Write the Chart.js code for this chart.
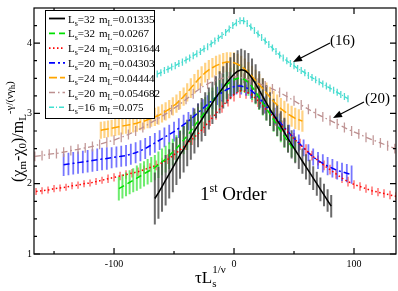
<!DOCTYPE html>
<html>
<head>
<meta charset="utf-8">
<script src="https://cdn.jsdelivr.net/npm/chart.js@4.4.0/dist/chart.umd.min.js"></script>
<style>body{margin:0;background:#fff}</style>
</head>
<body>
<canvas id="c" width="398" height="291"></canvas>
<script>
/* ---- axis ticks ---- */
const xTickLabels = [-100, 0, 100];
const xMinorTicks = [-150, -50, 50];
const yTickLabels = [1, 2, 3, 4];
const yMinorTicks = [1.25, 1.5, 1.75, 2.25, 2.5, 2.75, 3.25, 3.5, 3.75, 4.25];

/* ---- legend text ---- */
const legendLs = [32, 32, 24, 20, 24, 20, 16];
const legendmL = ["0.01335", "0.0267", "0.031644", "0.04303", "0.04444", "0.054682", "0.075"];

/* ---- Ls=32 mL=0.01335 ---- */
const black_x = [-66,-63,-60,-57,-54,-51,-48,-45,-42,-39,-36,-33,-30,-27,-24,-21,-18,-15,-12,-9,-6,-3,0,3,6,9,12,15,18,21,24,27,30,33,36,39,42,45,48,51,54,57,60,63,66,69,72,75,78,81];
const black_y = [1.79,1.87,1.96,2.05,2.14,2.23,2.32,2.41,2.49,2.58,2.66,2.75,2.83,2.91,2.99,3.07,3.15,3.23,3.30,3.37,3.44,3.50,3.56,3.60,3.62,3.61,3.57,3.50,3.42,3.33,3.24,3.15,3.06,2.98,2.90,2.82,2.73,2.64,2.56,2.48,2.40,2.32,2.24,2.16,2.08,2.00,1.92,1.84,1.76,1.68];
const black_err = [0.37,0.37,0.36,0.36,0.35,0.35,0.34,0.34,0.33,0.33,0.32,0.32,0.31,0.31,0.31,0.30,0.30,0.30,0.30,0.30,0.30,0.30,0.30,0.30,0.30,0.29,0.29,0.28,0.28,0.27,0.26,0.25,0.24,0.23,0.22,0.21,0.21,0.20,0.20,0.19,0.19,0.18,0.18,0.18,0.17,0.17,0.17,0.16,0.16,0.16];

/* ---- Ls=32 mL=0.0267 ---- */
const green_x = [-96,-93,-90,-87,-84,-81,-78,-75,-72,-69,-66,-63,-60,-57,-54,-51,-48,-45,-42,-39,-36,-33,-30,-27,-24,-21,-18,-15,-12,-9,-6,-3,0,3,6,9,12,15,18,21,24,27,30,33,36,39,42,45,48,51];
const green_y = [1.93,1.96,1.99,2.02,2.05,2.08,2.11,2.14,2.17,2.20,2.23,2.27,2.31,2.35,2.40,2.45,2.50,2.56,2.62,2.68,2.75,2.82,2.89,2.96,3.03,3.10,3.17,3.24,3.30,3.36,3.41,3.45,3.48,3.50,3.50,3.48,3.44,3.38,3.31,3.23,3.15,3.07,2.99,2.91,2.83,2.75,2.67,2.60,2.53,2.46];
const green_err = [0.17,0.17,0.17,0.17,0.17,0.18,0.18,0.18,0.18,0.18,0.18,0.19,0.19,0.19,0.19,0.19,0.19,0.20,0.20,0.20,0.20,0.20,0.20,0.20,0.20,0.20,0.20,0.20,0.20,0.20,0.20,0.20,0.20,0.20,0.20,0.19,0.19,0.19,0.18,0.18,0.18,0.17,0.17,0.17,0.16,0.16,0.16,0.15,0.15,0.15];

/* ---- Ls=24 mL=0.031644 ---- */
const red_x = [-165,-160,-155,-150,-145,-140,-135,-130,-125,-120,-115,-110,-105,-100,-95,-90,-85,-80,-75,-70,-65,-60,-55,-50,-45,-40,-35,-30,-25,-20,-15,-10,-5,0,5,10,15,20,25,30,35,40,45,50,55,60,65,70,75,80,85,90,95,100,105,110,115,120,125,130,135];
const red_y = [1.89,1.90,1.91,1.93,1.94,1.95,1.97,1.98,2.00,2.01,2.03,2.05,2.07,2.09,2.11,2.13,2.15,2.17,2.20,2.23,2.26,2.30,2.35,2.41,2.48,2.55,2.63,2.71,2.80,2.90,3.00,3.10,3.19,3.27,3.32,3.31,3.26,3.18,3.09,3.00,2.91,2.82,2.73,2.64,2.56,2.48,2.40,2.33,2.26,2.20,2.14,2.08,2.03,1.99,1.96,1.93,1.90,1.88,1.86,1.84,1.82];
const red_err = [0.05,0.05,0.05,0.05,0.05,0.05,0.05,0.05,0.05,0.05,0.05,0.05,0.06,0.06,0.06,0.06,0.06,0.06,0.06,0.06,0.07,0.07,0.07,0.07,0.07,0.07,0.08,0.08,0.08,0.08,0.09,0.09,0.09,0.10,0.10,0.10,0.10,0.09,0.09,0.09,0.09,0.08,0.08,0.08,0.08,0.08,0.07,0.07,0.07,0.07,0.07,0.07,0.07,0.06,0.06,0.06,0.06,0.06,0.06,0.06,0.06];

/* ---- Ls=20 mL=0.04303 ---- */
const blue_x = [-142,-138,-134,-130,-126,-122,-118,-114,-110,-106,-102,-98,-94,-90,-86,-82,-78,-74,-70,-66,-62,-58,-54,-50,-46,-42,-38,-34,-30,-26,-22,-18,-14,-10,-6,-2,2,6,10,14,18,22,26,30,34,38,42,46,50,54,58,62,66,70,74,78,82,86,90,94,98];
const blue_y = [2.27,2.28,2.29,2.30,2.31,2.32,2.33,2.34,2.35,2.36,2.37,2.38,2.39,2.40,2.42,2.44,2.47,2.50,2.54,2.58,2.62,2.66,2.70,2.74,2.79,2.84,2.89,2.95,3.01,3.07,3.13,3.19,3.25,3.30,3.34,3.37,3.39,3.39,3.37,3.33,3.27,3.20,3.12,3.04,2.96,2.88,2.80,2.72,2.65,2.58,2.51,2.44,2.38,2.33,2.29,2.25,2.22,2.19,2.17,2.15,2.13];
const blue_err = [0.16,0.16,0.16,0.16,0.16,0.16,0.16,0.16,0.16,0.16,0.15,0.15,0.15,0.15,0.15,0.15,0.15,0.15,0.14,0.14,0.14,0.14,0.14,0.14,0.14,0.14,0.13,0.13,0.13,0.13,0.13,0.13,0.13,0.13,0.13,0.13,0.12,0.12,0.12,0.12,0.12,0.12,0.12,0.12,0.12,0.12,0.12,0.12,0.12,0.12,0.12,0.12,0.12,0.12,0.13,0.13,0.13,0.13,0.13,0.13,0.13];

/* ---- Ls=24 mL=0.04444 ---- */
const orange_x = [-111,-108,-105,-102,-99,-96,-93,-90,-87,-84,-81,-78,-75,-72,-69,-66,-63,-60,-57,-54,-51,-48,-45,-42,-39,-36,-33,-30,-27,-24,-21,-18,-15,-12,-9,-6,-3,0,3,6,9,12,15,18,21,24,27,30,33,36,39,42,45,48,51,54,57];
const orange_y = [2.76,2.77,2.78,2.79,2.80,2.81,2.82,2.83,2.84,2.85,2.86,2.88,2.89,2.91,2.93,2.95,2.97,3.00,3.03,3.06,3.10,3.14,3.19,3.24,3.30,3.36,3.42,3.48,3.53,3.58,3.62,3.65,3.68,3.70,3.72,3.73,3.73,3.72,3.70,3.67,3.63,3.58,3.53,3.47,3.41,3.35,3.29,3.23,3.17,3.12,3.07,3.03,2.99,2.96,2.93,2.91,2.89];
const orange_err = [0.12,0.12,0.12,0.12,0.12,0.12,0.12,0.12,0.12,0.12,0.12,0.12,0.12,0.12,0.12,0.13,0.13,0.13,0.13,0.13,0.13,0.13,0.13,0.13,0.13,0.14,0.14,0.14,0.14,0.14,0.14,0.14,0.14,0.14,0.14,0.14,0.14,0.15,0.15,0.15,0.15,0.15,0.15,0.15,0.15,0.15,0.15,0.15,0.15,0.15,0.15,0.15,0.15,0.15,0.15,0.15,0.15];

/* ---- Ls=20 mL=0.054682 ---- */
const brown_x = [-166,-160,-154,-148,-142,-136,-130,-124,-118,-112,-106,-100,-94,-88,-82,-76,-70,-64,-58,-52,-46,-40,-34,-28,-22,-16,-10,-4,2,8,14,20,26,32,38,44,50,56,62,68,74,80,86,92,98,104,110,116,122,128,134];
const brown_y = [2.39,2.40,2.42,2.43,2.45,2.47,2.49,2.51,2.53,2.56,2.59,2.62,2.66,2.70,2.75,2.80,2.86,2.92,2.98,3.05,3.12,3.20,3.28,3.36,3.42,3.47,3.50,3.52,3.52,3.50,3.47,3.43,3.39,3.35,3.30,3.24,3.18,3.12,3.06,3.00,2.95,2.90,2.85,2.80,2.75,2.71,2.66,2.62,2.58,2.54,2.50];
const brown_err = [0.07,0.07,0.07,0.07,0.07,0.07,0.07,0.07,0.07,0.07,0.07,0.07,0.07,0.07,0.07,0.07,0.07,0.07,0.07,0.07,0.07,0.07,0.07,0.07,0.07,0.07,0.07,0.07,0.07,0.07,0.07,0.07,0.07,0.07,0.07,0.07,0.07,0.07,0.07,0.07,0.07,0.07,0.07,0.07,0.07,0.07,0.07,0.07,0.07,0.07,0.07];

/* ---- Ls=16 mL=0.075 ---- */
const cyan_x = [-64,-61,-58,-55,-52,-49,-46,-43,-40,-37,-34,-31,-28,-25,-22,-19,-16,-13,-10,-7,-4,-1,2,5,8,11,14,17,20,23,26,29,32,35,38,41,44,47,50,53,56,59,62,65,68,71,74,77,80,83,86,89,92,95];
const cyan_y = [3.56,3.58,3.61,3.63,3.66,3.68,3.71,3.73,3.76,3.79,3.82,3.85,3.88,3.92,3.95,3.99,4.03,4.07,4.11,4.15,4.20,4.25,4.29,4.32,4.32,4.28,4.23,4.18,4.13,4.08,4.03,3.98,3.93,3.88,3.83,3.79,3.75,3.71,3.68,3.64,3.61,3.58,3.54,3.51,3.48,3.45,3.42,3.39,3.36,3.33,3.30,3.27,3.24,3.21];
const cyan_err = [0.05,0.05,0.05,0.05,0.05,0.05,0.05,0.05,0.05,0.05,0.05,0.05,0.05,0.05,0.05,0.05,0.05,0.05,0.05,0.05,0.05,0.05,0.05,0.05,0.05,0.05,0.05,0.05,0.05,0.05,0.05,0.05,0.05,0.05,0.05,0.05,0.05,0.05,0.05,0.05,0.05,0.05,0.05,0.05,0.05,0.05,0.05,0.05,0.05,0.05,0.05,0.05,0.05,0.05];

const SERIF = '"Liberation Serif", "DejaVu Serif", serif';

const series = [
  { xs: black_x,  ys: black_y,  err: black_err,  color: "#000000", bar: "rgba(70,70,70,0.8)",    bw: 2.0, dash: [],            lw: 1.5 },
  { xs: green_x,  ys: green_y,  err: green_err,  color: "#00e000", bar: "rgba(60,230,60,0.75)",  bw: 2.0, dash: [6, 4],        lw: 1.5 },
  { xs: red_x,    ys: red_y,    err: red_err,    color: "#ff0000", bar: "rgba(255,80,80,0.8)",   bw: 1.5, dash: [1.5, 2.5],    lw: 1.5 },
  { xs: blue_x,   ys: blue_y,   err: blue_err,   color: "#0000ff", bar: "rgba(60,60,255,0.7)",   bw: 1.8, dash: [6, 3, 2, 3],  lw: 1.5 },
  { xs: orange_x, ys: orange_y, err: orange_err, color: "#ffa500", bar: "rgba(255,195,90,0.75)", bw: 2.2, dash: [8, 3],        lw: 1.5 },
  { xs: brown_x,  ys: brown_y,  err: brown_err,  color: "#bc8f8f", bar: "rgba(188,143,143,0.9)", bw: 1.3, dash: [6, 3, 1.5, 3],lw: 1.3 },
  { xs: cyan_x,   ys: cyan_y,   err: cyan_err,   color: "#40e0d0", bar: "rgba(64,214,204,0.9)",  bw: 1.3, dash: [5, 2, 1, 2],  lw: 1.3 }
];
const barOrder = [2, 3, 1, 4, 5, 6, 0];

function rich(ctx, parts, x, y) {
  parts.forEach(([t, size, dy]) => {
    ctx.font = size + "px " + SERIF;
    ctx.fillText(t, x, y + dy);
    x += ctx.measureText(t).width;
  });
  return x;
}

function arrow(ctx, x1, y1, x2, y2) {
  const a = Math.atan2(y2 - y1, x2 - x1);
  ctx.beginPath(); ctx.moveTo(x1, y1); ctx.lineTo(x2 - 6 * Math.cos(a), y2 - 6 * Math.sin(a)); ctx.stroke();
  ctx.beginPath();
  ctx.moveTo(x2, y2);
  ctx.lineTo(x2 - 9 * Math.cos(a) + 3.5 * Math.sin(a), y2 - 9 * Math.sin(a) - 3.5 * Math.cos(a));
  ctx.lineTo(x2 - 9 * Math.cos(a) - 3.5 * Math.sin(a), y2 - 9 * Math.sin(a) + 3.5 * Math.cos(a));
  ctx.closePath(); ctx.fill();
}

const decor = {
  id: "decor",
  beforeDatasetsDraw(chart) {
    const { ctx, chartArea: a, scales: { x, y } } = chart;
    ctx.save();
    ctx.beginPath(); ctx.rect(a.left, a.top, a.right - a.left, a.bottom - a.top); ctx.clip();
    barOrder.forEach(k => {
      const s = series[k];
      ctx.strokeStyle = s.bar; ctx.lineWidth = s.bw;
      ctx.beginPath();
      s.xs.forEach((v, i) => {
        const px = x.getPixelForValue(v);
        ctx.moveTo(px, y.getPixelForValue(s.ys[i] - s.err[i]));
        ctx.lineTo(px, y.getPixelForValue(s.ys[i] + s.err[i]));
      });
      ctx.stroke();
    });
    ctx.restore();
  },
  afterDraw(chart) {
    const { ctx, chartArea: a, scales: { x, y } } = chart;
    ctx.save();
    // frame + ticks
    ctx.strokeStyle = "#000"; ctx.lineWidth = 1.2;
    ctx.strokeRect(a.left, a.top, a.right - a.left, a.bottom - a.top);
    ctx.beginPath();
    const xt = (v, len) => { const p = x.getPixelForValue(v); ctx.moveTo(p, a.bottom); ctx.lineTo(p, a.bottom - len); ctx.moveTo(p, a.top); ctx.lineTo(p, a.top + len); };
    const yt = (v, len) => { const p = y.getPixelForValue(v); ctx.moveTo(a.left, p); ctx.lineTo(a.left + len, p); ctx.moveTo(a.right, p); ctx.lineTo(a.right - len, p); };
    xTickLabels.forEach(v => xt(v, 6)); xMinorTicks.forEach(v => xt(v, 3));
    yTickLabels.forEach(v => yt(v, 6)); yMinorTicks.forEach(v => yt(v, 3));
    ctx.stroke();

    // legend
    ctx.fillStyle = "#fff"; ctx.fillRect(45, 10, 109, 108);
    ctx.lineWidth = 1; ctx.strokeRect(45.5, 10.5, 109, 108);
    series.forEach((s, i) => {
      const ry = 18.5 + i * 14.8;
      ctx.strokeStyle = s.color; ctx.lineWidth = s.lw + 0.3; ctx.setLineDash(s.dash);
      ctx.beginPath(); ctx.moveTo(49, ry); ctx.lineTo(65, ry); ctx.stroke();
      ctx.setLineDash([]);
      ctx.fillStyle = "#000";
      rich(ctx, [["L", 11, 0], ["s", 8, 3], ["=" + legendLs[i], 11, 0]], 68, ry + 4);
      rich(ctx, [["m", 11, 0], ["L", 8, 3], ["=" + legendmL[i], 11, 0]], 99, ry + 4);
    });

    // axis titles
    ctx.fillStyle = "#000";
    ctx.save(); ctx.translate(23, 182); ctx.rotate(-Math.PI / 2);
    rich(ctx, [["(χ", 16, 0], ["m", 11, 3], ["-χ", 16, 0], ["0", 11, 3], [")/m", 16, 0], ["L", 11, 3],
               ["-γ/(νγ", 11, -10], ["h", 8, -8], [")", 11, -10]], 0, 0);
    ctx.restore();
    const xe = rich(ctx, [["τL", 17, 0]], 195, 283);
    rich(ctx, [["s", 11, 0]], xe, 287);
    rich(ctx, [["1/ν", 11, 0]], xe, 273);

    // annotations
    rich(ctx, [["1", 19, 0], ["st", 12, -8], [" Order", 19, 0]], 200, 200);
    rich(ctx, [["(16)", 15, 0]], 330, 45);
    rich(ctx, [["(20)", 15, 0]], 365, 103);
    ctx.strokeStyle = "#000"; ctx.lineWidth = 1.3;
    arrow(ctx, 330, 43, 293, 62);
    arrow(ctx, 364, 102, 333, 118);
    ctx.restore();
  }
};

new Chart(document.getElementById("c"), {
  type: "line",
  data: {
    datasets: series.map(s => ({
      data: s.xs.map((v, i) => ({ x: v, y: s.ys[i] })),
      borderColor: s.color,
      borderWidth: s.lw,
      borderDash: s.dash,
      pointRadius: 0,
      tension: 0,
      fill: false
    }))
  },
  options: {
    responsive: false,
    animation: false,
    devicePixelRatio: 1,
    layout: { padding: { top: 1, right: 2, left: 0, bottom: 0 } },
    plugins: { legend: { display: false }, tooltip: { enabled: false } },
    scales: {
      x: {
        type: "linear", min: -166.7, max: 135,
        afterFit: s => { s.height = 37; },
        afterBuildTicks: s => { s.ticks = xTickLabels.map(v => ({ value: v })); },
        grid: { display: false, drawTicks: false },
        border: { display: false },
        ticks: { font: { family: SERIF, size: 10 }, color: "#000", padding: 4, maxRotation: 0, autoSkip: false }
      },
      y: {
        type: "linear", min: 1, max: 4.5,
        afterFit: s => { s.width = 34; },
        afterBuildTicks: s => { s.ticks = yTickLabels.map(v => ({ value: v })); },
        grid: { display: false, drawTicks: false },
        border: { display: false },
        ticks: { font: { family: SERIF, size: 10 }, color: "#000", padding: 2, autoSkip: false }
      }
    }
  },
  plugins: [decor]
});
</script>
</body>
</html>
